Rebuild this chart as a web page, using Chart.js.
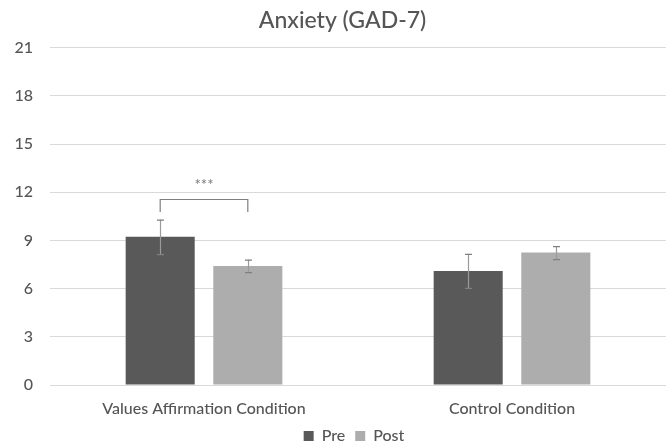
<!DOCTYPE html>
<html>
<head>
<meta charset="utf-8">
<script src="https://cdn.jsdelivr.net/npm/chart.js@4.4.1/dist/chart.umd.min.js"></script>
<style>
  html, body { margin: 0; padding: 0; background: #fff; }
  #wrap { width: 672px; height: 447px; }
</style>
</head>
<body>
<div id="wrap"><canvas id="c"></canvas></div>
<script>
// GAD-7 anxiety scores, pre vs post, by condition
const categories = ['Values Affirmation Condition', 'Control Condition'];
const preMeans = [9.22, 7.10];
const postMeans = [7.41, 8.24];
const preErrors = [1.07, 1.06];
const postErrors = [0.39, 0.40];
const yTicks = [0, 3, 6, 9, 12, 15, 18, 21];

// Significance marker between the two bars of the first condition
const significance = { category: 0, label: '***', bracketTop: 11.6, bracketEnd: 10.76, labelAt: 12.6 };

const FONT = 'Lato, "Open Sans", sans-serif';
const TEXT = '#555555';

// Horizontal nudges for the title and legend blocks (px)
const TITLE_SHIFT = 9.5;
const LEGEND_SHIFT = 21;

const nudge = {
  id: 'nudge',
  afterLayout(chart) {
    const t = chart.titleBlock, l = chart.legend;
    if (t) { t.left += TITLE_SHIFT; t.right += TITLE_SHIFT; }
    if (l) { l.left += LEGEND_SHIFT; l.right += LEGEND_SHIFT; }
  }
};

const errorBars = {
  id: 'errorBars',
  afterDatasetsDraw(chart) {
    const ctx = chart.ctx;
    const y = chart.scales.y;
    const errs = [preErrors, postErrors];
    chart.data.datasets.forEach((ds, di) => {
      const meta = chart.getDatasetMeta(di);
      meta.data.forEach((bar, i) => {
        const v = ds.data[i];
        const e = errs[di][i];
        const top = y.getPixelForValue(v + e);
        const bot = y.getPixelForValue(v - e);
        const x = Math.round(bar.x) + 0.5;
        ctx.save();
        ctx.lineWidth = 1.2;
        ctx.strokeStyle = '#9a9a9a';
        ctx.beginPath();
        ctx.moveTo(x, top);
        ctx.lineTo(x, bot);
        ctx.stroke();
        ctx.strokeStyle = '#808080';
        ctx.beginPath();
        ctx.moveTo(x - 3.5, top + 0.5);
        ctx.lineTo(x + 3.5, top + 0.5);
        ctx.moveTo(x - 3.5, bot + 0.5);
        ctx.lineTo(x + 3.5, bot + 0.5);
        ctx.stroke();
        ctx.restore();
      });
    });
  }
};

const bracket = {
  id: 'bracket',
  afterDatasetsDraw(chart) {
    const ctx = chart.ctx;
    const y = chart.scales.y;
    const a = chart.getDatasetMeta(0).data[significance.category];
    const b = chart.getDatasetMeta(1).data[significance.category];
    const yt = Math.round(y.getPixelForValue(significance.bracketTop)) + 0.5;
    const ye = y.getPixelForValue(significance.bracketEnd);
    ctx.save();
    ctx.strokeStyle = '#7f7f7f';
    ctx.lineWidth = 1.2;
    ctx.beginPath();
    ctx.moveTo(a.x, ye);
    ctx.lineTo(a.x, yt);
    ctx.lineTo(b.x, yt);
    ctx.lineTo(b.x, ye);
    ctx.stroke();
    ctx.fillStyle = '#777777';
    ctx.font = '15px ' + FONT;
    ctx.textAlign = 'center';
    ctx.textBaseline = 'middle';
    ctx.fillText(significance.label, (a.x + b.x) / 2, y.getPixelForValue(significance.labelAt) + 3);
    ctx.restore();
  }
};

new Chart(document.getElementById('c'), {
  type: 'bar',
  data: {
    labels: categories,
    datasets: [
      { label: 'Pre', data: preMeans, backgroundColor: '#595959', borderWidth: 0 },
      { label: 'Post', data: postMeans, backgroundColor: '#adadad', borderWidth: 0 }
    ]
  },
  options: {
    responsive: true,
    maintainAspectRatio: false,
    animation: false,
    categoryPercentage: 0.569,
    barPercentage: 0.788,
    layout: { padding: { left: 0, right: 6, top: 0, bottom: -7 } },
    plugins: {
      title: {
        display: true,
        text: 'Anxiety (GAD-7)',
        color: TEXT,
        font: { family: FONT, size: 23, weight: 500 },
        padding: { top: 7, bottom: 13 }
      },
      legend: {
        position: 'bottom',
        labels: {
          color: TEXT,
          font: { family: FONT, size: 16, weight: 500 },
          boxWidth: 10,
          boxHeight: 10,
          padding: 10
        }
      },
      tooltip: { enabled: false }
    },
    scales: {
      x: {
        afterFit(scale) { scale.height = 33; },
        grid: { display: false, drawTicks: false },
        border: { display: false },
        ticks: { color: TEXT, font: { family: FONT, size: 16, weight: 500 }, padding: 14 }
      },
      y: {
        min: 0,
        max: 21,
        afterBuildTicks(scale) { scale.ticks = yTicks.map(v => ({ value: v })); },
        afterFit(scale) { scale.width = 50; },
        grid: { color: '#d9d9d9', drawTicks: false },
        border: { display: false },
        ticks: { color: TEXT, font: { family: FONT, size: 16, weight: 500 }, padding: 17 }
      }
    }
  },
  plugins: [nudge, errorBars, bracket]
});
</script>
</body>
</html>
